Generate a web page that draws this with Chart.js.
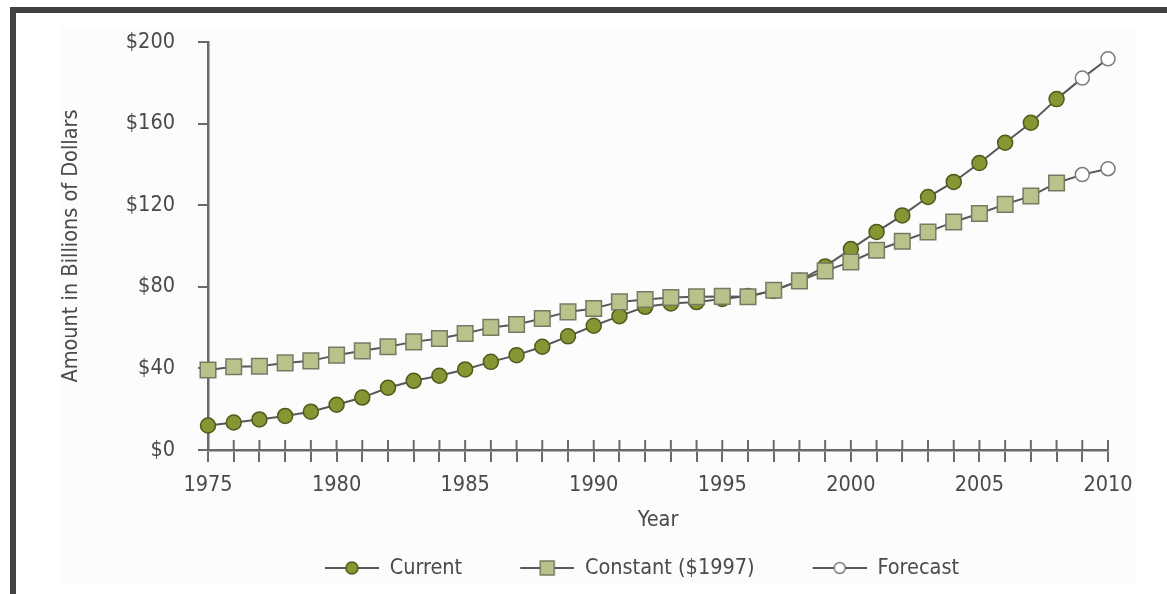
<!DOCTYPE html>
<html>
<head>
<meta charset="utf-8">
<script src="https://cdn.jsdelivr.net/npm/chart.js"></script>
<style>
  html, body { margin: 0; padding: 0; background: #ffffff; }
  #wrap { width: 1167px; height: 594px; position: relative; }
</style>
</head>
<body>
<div id="wrap"><canvas id="myChart"></canvas></div>
<script>
// data
const years = [1975, 1976, 1977, 1978, 1979, 1980, 1981, 1982, 1983, 1984, 1985, 1986,
               1987, 1988, 1989, 1990, 1991, 1992, 1993, 1994, 1995, 1996, 1997, 1998,
               1999, 2000, 2001, 2002, 2003, 2004, 2005, 2006, 2007, 2008];
const currentValues = [12, 13.5, 15, 16.7, 18.8, 22.2, 25.7, 30.5, 33.9, 36.4, 39.5, 43.2,
                       46.5, 50.6, 55.7, 60.9, 65.6, 70.2, 71.8, 72.5, 74, 75.5, 78, 83,
                       90, 98.5, 106.9, 115, 124, 131.4, 140.7, 150.6, 160.4, 172];
const constantValues = [39.2, 40.8, 41.1, 42.7, 43.7, 46.5, 48.6, 50.6, 53, 54.7, 57.1, 60.1,
                        61.5, 64.5, 67.7, 69.4, 72.6, 73.8, 74.8, 75.1, 75.3, 75.1, 78.3, 82.9,
                        87.8, 92.2, 97.9, 102.3, 106.9, 111.8, 115.9, 120.4, 124.5, 130.9];
const forecastYears = [2009, 2010];
const forecastCurrent = [182.3, 191.8];
const forecastConstant = [135, 137.9];

const xTickLabels = ['1975', '1980', '1985', '1990', '1995', '2000', '2005', '2010'];
const yTickValues = [0, 40, 80, 120, 160, 200];
const yTickLabels = ['$0', '$40', '$80', '$120', '$160', '$200'];
const legendNames = ['Current', 'Constant ($1997)', 'Forecast'];

const FONT = "'Liberation Sans Narrow', 'DejaVu Sans Condensed', sans-serif";
const FS = 21.5;
const textColor = '#4a4a4a';
const axisColor = '#6a6a6a';
const lineColor = '#585858';
const olive = '#869632';
const oliveDark = '#4e5a1c';
const sage = '#b8c38b';
const sageBorder = '#767a62';
const openBorder = '#7c7c7c';

const pts = (xs, ys) => xs.map((x, i) => ({ x: x, y: ys[i] }));

// forecast lines start from the last real point
const lastYear = years[years.length - 1];
const fcCurrentPts = [{ x: lastYear, y: currentValues[currentValues.length - 1] }].concat(pts(forecastYears, forecastCurrent));
const fcConstantPts = [{ x: lastYear, y: constantValues[constantValues.length - 1] }].concat(pts(forecastYears, forecastConstant));

// legend icons: line with marker in the middle
function makeIcon(kind) {
  const c = document.createElement('canvas');
  c.width = 100; c.height = 20;
  const g = c.getContext('2d');
  g.strokeStyle = lineColor; g.lineWidth = 2;
  g.beginPath(); g.moveTo(46, 10); g.lineTo(100, 10); g.stroke();
  g.lineWidth = 1.5;
  if (kind === 'circle') {
    g.fillStyle = olive; g.strokeStyle = oliveDark;
    g.beginPath(); g.arc(73, 10, 6, 0, Math.PI * 2); g.fill(); g.stroke();
  } else if (kind === 'square') {
    g.fillStyle = sage; g.strokeStyle = sageBorder;
    g.fillRect(66, 3, 14, 14); g.strokeRect(66, 3, 14, 14);
  } else {
    g.fillStyle = '#ffffff'; g.strokeStyle = openBorder;
    g.beginPath(); g.arc(73, 10, 5.5, 0, Math.PI * 2); g.fill(); g.stroke();
  }
  return c;
}
const legendIcons = [makeIcon('circle'), makeIcon('square'), makeIcon('open')];

const frame = {
  id: 'frame',
  afterLayout(chart) {
    // legend row is centred a little right of the canvas centre
    chart.legend.left = 130;
    chart.legend.right = chart.chartArea.right;
  },
  beforeDraw(chart) {
    const ctx = chart.ctx;
    ctx.save();
    ctx.fillStyle = '#ffffff';
    ctx.fillRect(0, 0, chart.width, chart.height);
    ctx.fillStyle = '#fcfcfc';
    ctx.fillRect(60, 27, 1075, 556);
    ctx.fillStyle = '#424242';
    ctx.fillRect(10, 7, chart.width - 10, 6);
    ctx.fillRect(10, 7, 6, chart.height - 7);
    ctx.restore();
  },
  // x ticks cross the axis: draw the upper half
  beforeDatasetsDraw(chart) {
    const { ctx, chartArea, scales: { x } } = chart;
    ctx.save();
    ctx.strokeStyle = axisColor;
    ctx.lineWidth = 2;
    x.ticks.forEach(t => {
      const px = x.getPixelForValue(t.value);
      ctx.beginPath();
      ctx.moveTo(px, chartArea.bottom - 10);
      ctx.lineTo(px, chartArea.bottom);
      ctx.stroke();
    });
    ctx.restore();
  }
};

const config = {
  type: 'line',
  data: {
    datasets: [
      {
        label: 'Current',
        data: pts(years, currentValues),
        borderColor: lineColor, borderWidth: 2,
        pointStyle: 'circle', pointRadius: 7.5,
        pointBackgroundColor: olive, pointBorderColor: oliveDark, pointBorderWidth: 1.5,
        order: 3
      },
      {
        label: 'Constant ($1997)',
        data: pts(years, constantValues),
        borderColor: lineColor, borderWidth: 2,
        pointStyle: 'rect', pointRadius: 11,
        pointBackgroundColor: sage, pointBorderColor: sageBorder, pointBorderWidth: 1.5,
        order: 1
      },
      {
        label: 'Forecast',
        data: fcCurrentPts,
        borderColor: lineColor, borderWidth: 2,
        pointStyle: 'circle', pointRadius: [0, 7, 7],
        pointBackgroundColor: '#ffffff', pointBorderColor: openBorder, pointBorderWidth: 1.5,
        order: 4
      },
      {
        label: 'Forecast',
        data: fcConstantPts,
        borderColor: lineColor, borderWidth: 2,
        pointStyle: 'circle', pointRadius: [0, 7, 7],
        pointBackgroundColor: '#ffffff', pointBorderColor: openBorder, pointBorderWidth: 1.5,
        order: 2
      }
    ]
  },
  options: {
    responsive: true,
    maintainAspectRatio: false,
    animation: false,
    devicePixelRatio: 1,
    clip: false,
    layout: { padding: { left: 60, right: 59, top: 42, bottom: 5.25 } },
    elements: { line: { tension: 0 } },
    scales: {
      x: {
        type: 'linear',
        min: 1975, max: 2010,
        afterFit(scale) { scale.height = 95.25; scale.paddingLeft = 0; scale.paddingRight = 0; },
        border: { display: true, color: axisColor, width: 2.5 },
        grid: { display: true, drawOnChartArea: false, drawTicks: true, tickLength: 12, color: axisColor, lineWidth: 2 },
        ticks: {
          stepSize: 1, autoSkip: false, maxRotation: 0, padding: 11,
          color: textColor, font: { family: FONT, size: FS },
          callback: (v) => xTickLabels.find(l => Number(l) === v) || ''
        },
        title: {
          display: true, text: 'Year', color: textColor,
          font: { family: FONT, size: FS }, padding: { top: 0, bottom: 12.3 }
        }
      },
      y: {
        min: 0, max: 200,
        afterFit(scale) { scale.width = 148; scale.paddingTop = 0; scale.paddingBottom = 0; },
        border: { display: true, color: axisColor, width: 2.5 },
        grid: { display: true, drawOnChartArea: false, drawTicks: true, tickLength: 10, color: axisColor, lineWidth: 2 },
        ticks: {
          stepSize: 40, padding: 23,
          color: textColor, font: { family: FONT, size: FS },
          callback: (v) => yTickLabels[yTickValues.indexOf(v)]
        },
        title: {
          display: true, text: 'Amount in Billions of Dollars', color: textColor,
          font: { family: FONT, size: FS }, padding: { top: -1, bottom: 0 }
        }
      }
    },
    plugins: {
      tooltip: { enabled: false },
      legend: {
        position: 'bottom',
        onClick: null,
        labels: {
          usePointStyle: true,
          pointStyleWidth: 100,
          padding: 12,
          color: textColor,
          font: { family: FONT, size: FS },
          generateLabels: () => legendNames.map((name, i) => ({
            text: name, pointStyle: legendIcons[i], hidden: false,
            datasetIndex: i, lineWidth: 0, fontColor: textColor
          }))
        }
      }
    }
  },
  plugins: [frame]
};

new Chart(document.getElementById('myChart'), config);
</script>
</body>
</html>
